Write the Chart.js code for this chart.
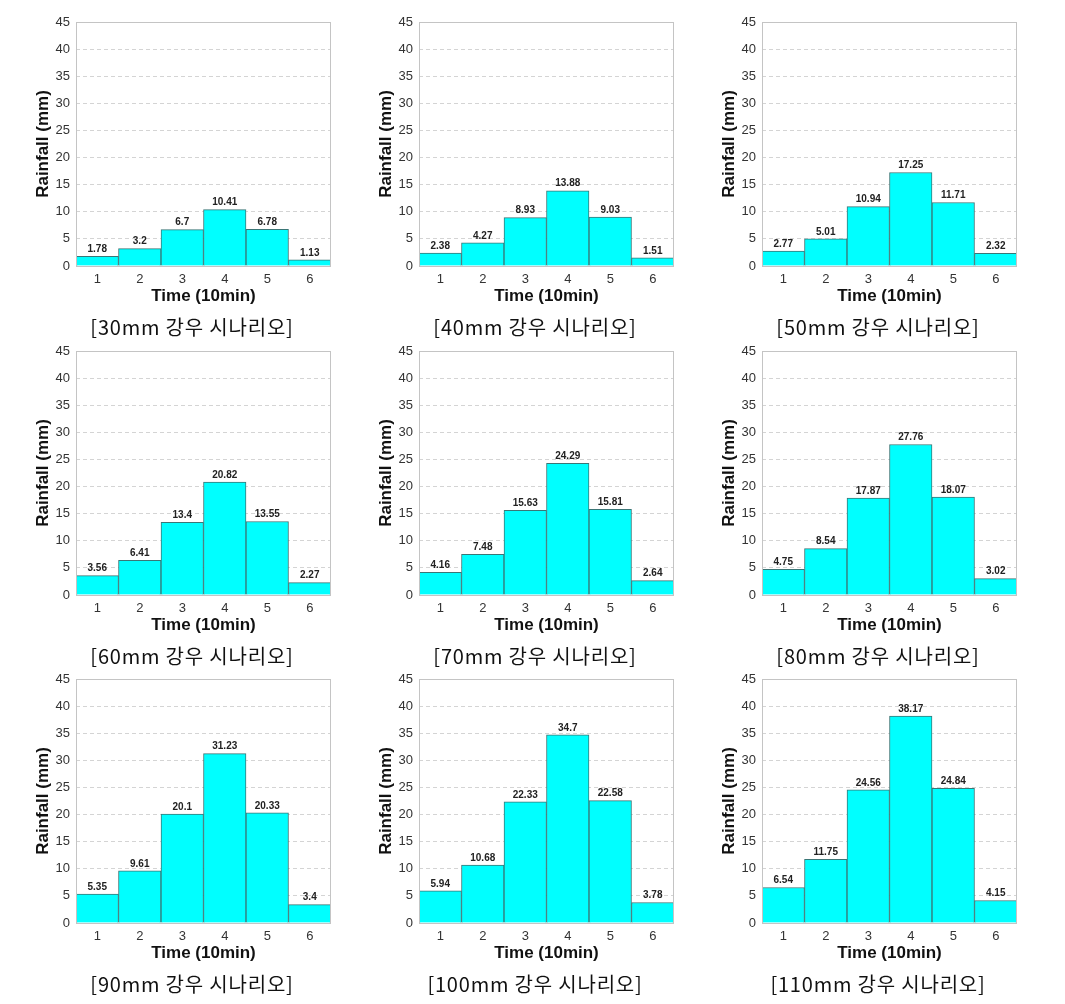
<!DOCTYPE html>
<html>
<head>
<meta charset="utf-8">
<script src="https://cdn.jsdelivr.net/npm/chart.js@4/dist/chart.umd.min.js"></script>
<style>
  html, body { margin: 0; padding: 0; background: #fff; }
  body { width: 1065px; height: 1004px; position: relative; overflow: hidden; }
  .panel { position: absolute; width: 340px; height: 312px; }
  .panel canvas { display: block; }
  .cap { position: absolute; width: 340px; text-align: center;
         font-family: "Noto Sans CJK KR", sans-serif; font-weight: 400;
         font-size: 20px; letter-spacing: 0.8px; color: #111; white-space: nowrap; line-height: 24px;
         -webkit-font-smoothing: antialiased; transform: translateZ(0); will-change: transform; }
</style>
</head>
<body>
<script>
// ---- data ----
const timeLabels = ['1', '2', '3', '4', '5', '6'];
const yTicks = [0, 5, 10, 15, 20, 25, 30, 35, 40, 45];
const captions = [
  '[30mm 강우 시나리오]', '[40mm 강우 시나리오]', '[50mm 강우 시나리오]',
  '[60mm 강우 시나리오]', '[70mm 강우 시나리오]', '[80mm 강우 시나리오]',
  '[90mm 강우 시나리오]', '[100mm 강우 시나리오]', '[110mm 강우 시나리오]'
];
const rain30  = [1.78, 3.2, 6.7, 10.41, 6.78, 1.13];
const rain40  = [2.38, 4.27, 8.93, 13.88, 9.03, 1.51];
const rain50  = [2.77, 5.01, 10.94, 17.25, 11.71, 2.32];
const rain60  = [3.56, 6.41, 13.4, 20.82, 13.55, 2.27];
const rain70  = [4.16, 7.48, 15.63, 24.29, 15.81, 2.64];
const rain80  = [4.75, 8.54, 17.87, 27.76, 18.07, 3.02];
const rain90  = [5.35, 9.61, 20.1, 31.23, 20.33, 3.4];
const rain100 = [5.94, 10.68, 22.33, 34.7, 22.58, 3.78];
const rain110 = [6.54, 11.75, 24.56, 38.17, 24.84, 4.15];
const xTitle = 'Time (10min)';
const yTitle = 'Rainfall (mm)';

const series = [rain30, rain40, rain50, rain60, rain70, rain80, rain90, rain100, rain110];

const colX = [0, 343, 686];
const rowY = [0, 329, 657];

const boxPlugin = {
  id: 'boxPlugin',
  afterDatasetsDraw(chart) {
    const {ctx, chartArea: a} = chart;
    ctx.save();
    ctx.strokeStyle = '#c4c4c4';
    ctx.lineWidth = 1;
    ctx.strokeRect(Math.round(a.left) + 0.5, Math.round(a.top) + 0.5,
                   Math.round(a.right - a.left) - 1, Math.round(a.bottom - a.top));
    ctx.restore();
    // value labels
    const meta = chart.getDatasetMeta(0);
    const data = chart.data.datasets[0].data;
    ctx.save();
    ctx.font = 'bold 10px "Liberation Sans", Arial, sans-serif';
    ctx.fillStyle = '#222';
    ctx.textAlign = 'center';
    ctx.textBaseline = 'bottom';
    meta.data.forEach((bar, i) => {
      ctx.fillText(String(data[i]), bar.x, bar.y - 2);
    });
    ctx.restore();
  }
};

series.forEach((vals, idx) => {
  const c = idx % 3, r = Math.floor(idx / 3);
  const wrap = document.createElement('div');
  wrap.className = 'panel';
  wrap.style.left = colX[c] + 'px';
  wrap.style.top = rowY[r] + 'px';
  const cv = document.createElement('canvas');
  cv.width = 340; cv.height = 312;
  cv.style.width = '340px'; cv.style.height = '312px';
  wrap.appendChild(cv);
  document.body.appendChild(wrap);

  const cap = document.createElement('div');
  cap.className = 'cap';
  cap.textContent = captions[idx];
  cap.style.left = (colX[c] + 22) + 'px';
  cap.style.top = (rowY[r] + 315) + 'px';
  document.body.appendChild(cap);

  new Chart(cv, {
    type: 'bar',
    data: {
      labels: timeLabels,
      datasets: [{
        data: vals,
        backgroundColor: '#00ffff',
        borderColor: '#3a7676',
        borderWidth: 1,
        barPercentage: 1,
        categoryPercentage: 1
      }]
    },
    options: {
      responsive: false,
      maintainAspectRatio: false,
      animation: false,
      devicePixelRatio: 1,
      layout: { padding: { top: 22, right: 9, left: 0, bottom: 0 } },
      plugins: { legend: { display: false }, tooltip: { enabled: false } },
      scales: {
        x: {
          grid: { display: false, drawTicks: false },
          border: { display: false },
          ticks: { color: '#333', padding: 6, font: { family: '"Liberation Sans", Arial', size: 13 } },
          title: { display: true, text: xTitle, color: '#111',
                   font: { family: '"Liberation Sans", Arial', size: 17, weight: 'bold' },
                   padding: { top: 0, bottom: 5 } },
          afterFit(s) { s.height = 46; }
        },
        y: {
          min: 0, max: 45,
          afterBuildTicks(s) { s.ticks = yTicks.map(v => ({ value: v })); },
          grid: { color: '#d4d4d4', drawTicks: false, lineWidth: 1 },
          border: { display: false, dash: [4, 3] },
          ticks: { color: '#333', padding: 6, autoSkip: false,
                   font: { family: '"Liberation Sans", Arial', size: 13 } },
          title: { display: true, text: yTitle, color: '#111',
                   font: { family: '"Liberation Sans", Arial', size: 17, weight: 'bold' },
                   padding: { top: 33, bottom: 0 } },
          afterFit(s) { s.width = 76; }
        }
      }
    },
    plugins: [boxPlugin]
  });
});
</script>
</body>
</html>
